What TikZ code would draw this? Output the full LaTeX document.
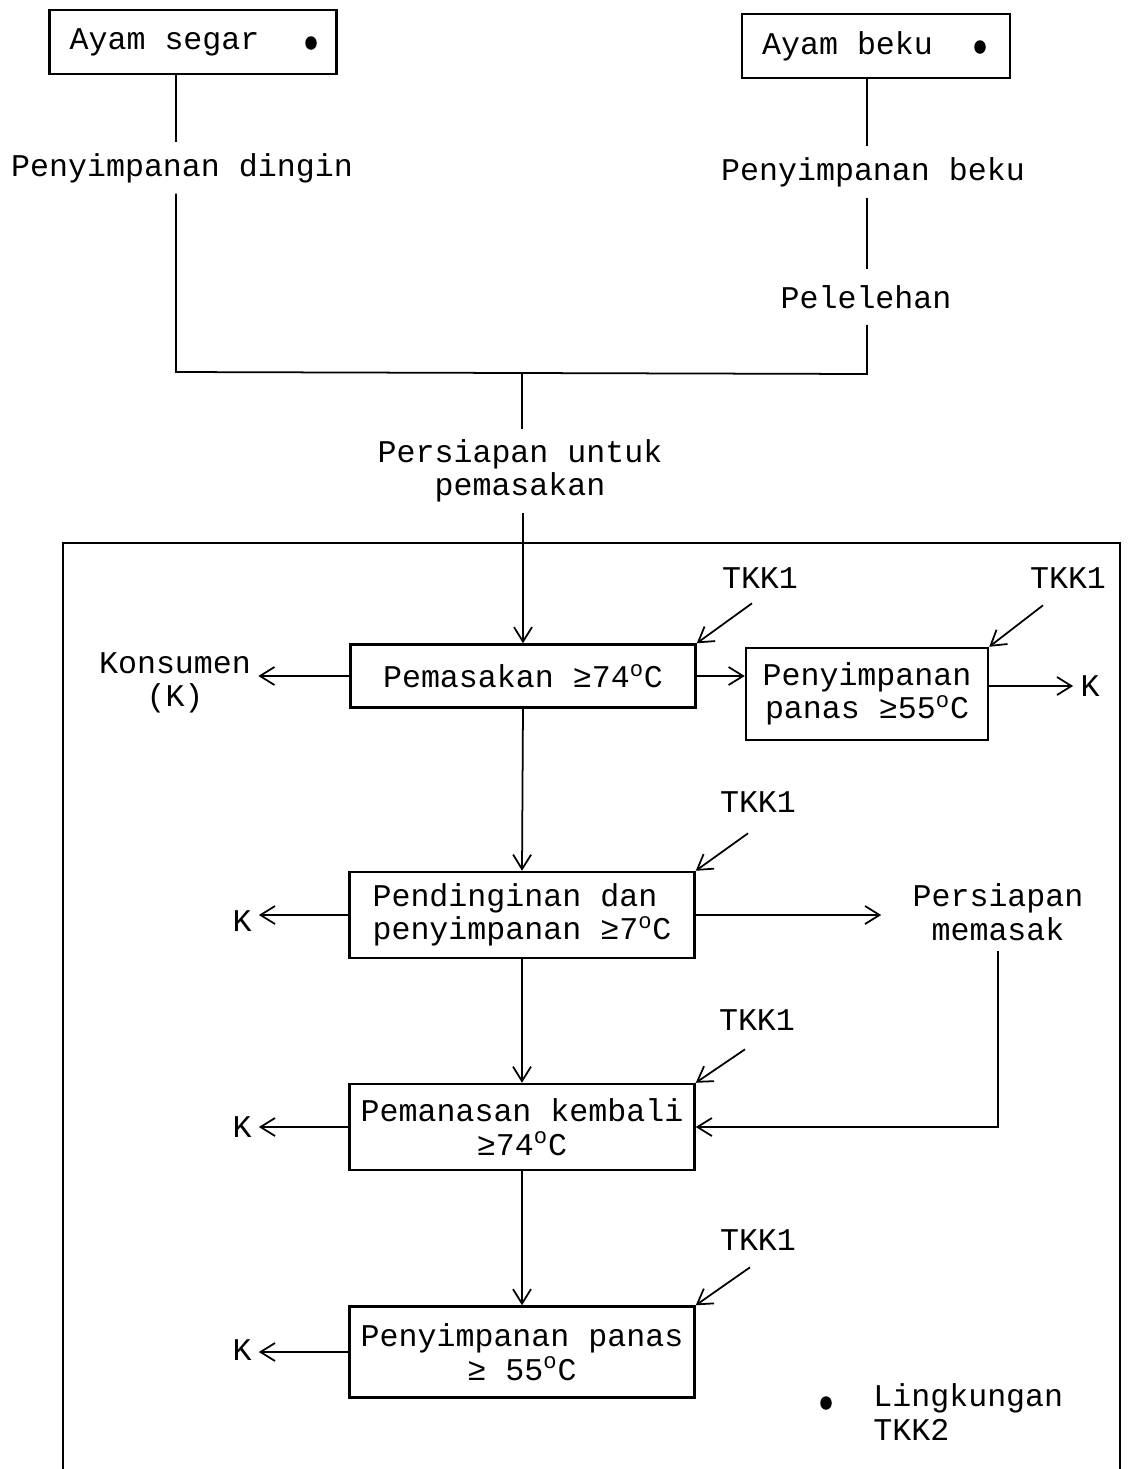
\documentclass[tikz,border=0pt]{standalone}
\usepackage{fontspec}
\setmainfont{Liberation Mono}
\usetikzlibrary{arrows.meta,positioning,shapes.geometric}
\newcommand{\degC}{\textsuperscript{o}C}
\tikzset{
  srcbox/.style={draw,line width=1.4pt,inner xsep=0.4cm,minimum height=1.28cm},
  procbox/.style={draw,line width=1.4pt,minimum width=6.9cm,minimum height=1.72cm,
    align=center,inner sep=2pt},
  steptext/.style={align=center,inner xsep=4pt,inner ysep=6pt},
  envdot/.style={ellipse,fill,inner sep=0pt,minimum width=2.3mm,minimum height=2.7mm},
  link/.style={line width=1pt},
  flow/.style={link,-{Straight Barb[length=2.9mm,width=3.6mm]}},
  frame/.style={line width=1.2pt},
}

\begin{document}
\begin{tikzpicture}[x=0.2mm,y=-0.2mm,font=\fontsize{18}{19}\selectfont]
  \useasboundingbox (0,0) rectangle (1129,1469);
  % bahan baku
  \node[srcbox] (segar) at (193,42) {Ayam segar~~\phantom{x}};
  \node[srcbox] (beku) at (876,46) {Ayam beku~~\phantom{x}};
  \node[envdot] (dot1) at (311,43) {};
  \node[envdot] (dot2) at (980,47) {};
  \node[steptext] (dingin) at (182,168) {Penyimpanan dingin};
  \node[steptext] (simbeku) at (873,172) {Penyimpanan beku};
  \node[steptext,inner ysep=9pt] (leleh) at (866,297) {Pelelehan};
  \node[steptext] (siap) at (520,471) {Persiapan untuk\\pemasakan};
  \coordinate (jl) at (176,372);
  \coordinate (jm) at (522,373);
  \coordinate (jr) at (867,374);
  \draw[link] (segar.south -| jl) -- (dingin.north -| jl);
  \draw[link] (dingin.south -| jl) -- (jl) -- (jr) -- (leleh.south -| jr);
  \draw[link] (beku.south -| jr) -- (simbeku.north -| jr);
  \draw[link] (simbeku.south -| jr) -- (leleh.north -| jr);
  \draw[link] (jm) -- (siap.north -| jm);

  % proses
  \draw[frame] (63,1469) -- (63,543) -- (1120,543) -- (1120,1469);
  \node[procbox,minimum height=1.26cm] (masak) at (523,676) {Pemasakan ≥74\degC};
  \node[procbox,minimum width=4.84cm,minimum height=1.84cm] (panas1) at (867,694) {Penyimpanan\\panas ≥55\degC};
  \node[procbox,align=left] (dingin2) at (522,915) {Pendinginan dan\\penyimpanan ≥7\degC};
  \node[procbox] (ulang) at (522,1127) {Pemanasan kembali\\≥74\degC};
  \node[procbox,minimum height=1.82cm] (panas2) at (522,1352) {Penyimpanan panas\\≥ 55\degC};

  \node[steptext] (kons) at (175,683) {Konsumen\\(K)};
  \node[steptext] (k1) at (1090,686) {K};
  \node[steptext] (k2) at (242,921) {K};
  \node[steptext] (k3) at (242,1127) {K};
  \node[steptext] (k4) at (242,1350) {K};
  \node[steptext] (memasak) at (998,912) {Persiapan\\memasak};

  \node[steptext] (t1) at (760,578) {TKK1};
  \node[steptext] (t2) at (1068,578) {TKK1};
  \node[steptext] (t3) at (758,802) {TKK1};
  \node[steptext] (t4) at (757,1020) {TKK1};
  \node[steptext] (t5) at (758,1240) {TKK1};

  \draw[flow] (siap.south -| masak.north) -- (masak.north);
  \draw[flow] (masak.west) -- (masak.west -| kons.east);
  \draw[flow] (masak.east) -- (masak.east -| panas1.west);
  \draw[flow] (panas1.east |- k1.west) -- (k1.west);
  \draw[flow] (masak.south) -- (dingin2.north);
  \draw[flow] (dingin2.west) -- (dingin2.west -| k2.east);
  \draw[flow,shorten >=4.8mm] (dingin2.east) -- (dingin2.east -| memasak.west);
  \draw[flow] (memasak.south) |- (ulang.east);
  \draw[flow] (dingin2.south) -- (ulang.north);
  \draw[flow] (ulang.west) -- (ulang.west -| k3.east);
  \draw[flow] (ulang.south) -- (panas2.north);
  \draw[flow] (panas2.west) -- (panas2.west -| k4.east);

  % titik kendali kritis
  \draw[flow] ([shift={(-8,4)}]t1.south) -- (masak.north east);
  \draw[flow] ([shift={(-25,6)}]t2.south) -- (panas1.north east);
  \draw[flow] ([shift={(-10,10)}]t3.south) -- (dingin2.north east);
  \draw[flow] ([shift={(-12,8)}]t4.south) -- (ulang.north east);
  \draw[flow] ([shift={(-8,6)}]t5.south) -- (panas2.north east);

  % keterangan
  \node[envdot] (ldot) at (826,1403) {};
  \node[steptext,align=left,anchor=west] (lgd) at (866,1412) {Lingkungan\\TKK2};
\end{tikzpicture}
\end{document}
